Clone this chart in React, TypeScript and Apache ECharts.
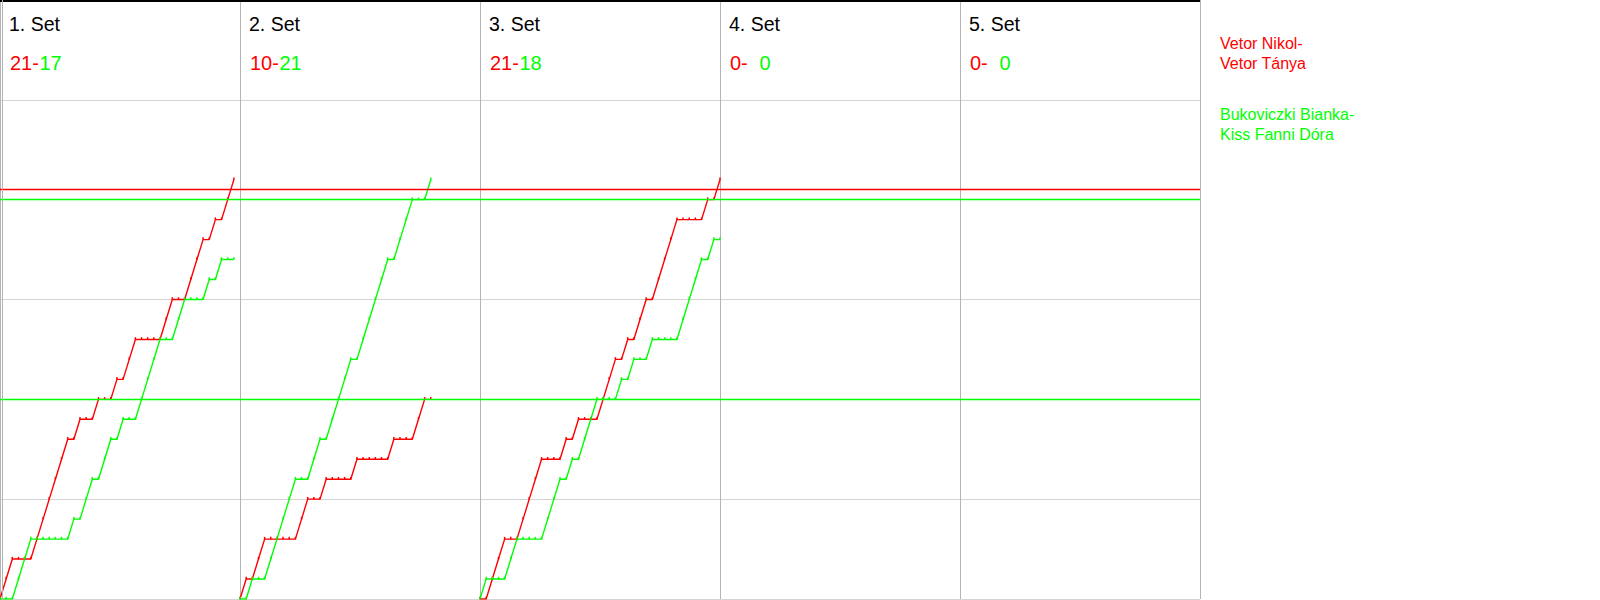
import React, { useEffect, useRef } from "react";
import * as echarts from "echarts";

// ---- data ----
const setNames = ["1. Set", "2. Set", "3. Set", "4. Set", "5. Set"];
const redTeam = "Vetor Nikol-\nVetor Tánya";
const greenTeam = "Bukoviczki Bianka-\nKiss Fanni Dóra";
const redSetScores = [21, 10, 21, 0, 0];
const greenSetScores = [17, 21, 18, 0, 0];

// running score after each rally (index 0 = start of set)
const redSet1 = [0, 1, 2, 2, 2, 2, 3, 4, 5, 6, 7, 8, 8, 9, 9, 9, 10, 10, 10, 11, 11, 12, 13, 13, 13, 13, 13, 14, 15, 15, 15, 16, 17, 18, 18, 19, 19, 20, 21];
const greenSet1 = [0, 0, 0, 1, 2, 3, 3, 3, 3, 3, 3, 3, 4, 4, 5, 6, 6, 7, 8, 8, 9, 9, 9, 10, 11, 12, 13, 13, 13, 14, 15, 15, 15, 15, 16, 16, 17, 17, 17];
const redSet2 = [0, 1, 1, 2, 3, 3, 3, 3, 3, 3, 4, 5, 5, 5, 6, 6, 6, 6, 6, 7, 7, 7, 7, 7, 7, 8, 8, 8, 8, 9, 10, 10];
const greenSet2 = [0, 0, 1, 1, 1, 2, 3, 4, 5, 6, 6, 6, 7, 8, 8, 9, 10, 11, 12, 12, 13, 14, 15, 16, 17, 17, 18, 19, 20, 20, 20, 21];
const redSet3 = [0, 0, 1, 2, 3, 3, 3, 4, 5, 6, 7, 7, 7, 7, 8, 8, 9, 9, 9, 9, 10, 11, 12, 12, 13, 13, 14, 15, 15, 16, 17, 18, 19, 19, 19, 19, 19, 20, 20, 21];
const greenSet3 = [0, 1, 1, 1, 1, 2, 3, 3, 3, 3, 3, 4, 5, 6, 6, 7, 7, 8, 9, 10, 10, 10, 10, 11, 11, 12, 12, 12, 13, 13, 13, 13, 13, 14, 15, 16, 17, 17, 18, 18];
const redProgress = [redSet1, redSet2, redSet3, [], []];
const greenProgress = [greenSet1, greenSet2, greenSet3, [], []];

const ralliesPerSet = 39;
const yMax = 30;
const yStep = 5;
const redRefLines = [20.5];
const greenRefLines = [20, 10];

const RED = "#ff0000";
const GREEN = "#00ff00";

const W = 1200;
const H = 599;
const colW = W / setNames.length;
const FONT = "'Liberation Sans', Arial, sans-serif";

export default function App() {
  const ref = useRef<HTMLDivElement>(null);
  useEffect(() => {
    if (!ref.current) return;
    const chart = echarts.init(ref.current, null, { renderer: "svg" });

    const series: any[] = [];
    const mkSeries = (prog: number[][], color: string, name: string) => {
      prog.forEach((arr, si) => {
        if (!arr.length) return;
        series.push({
          type: "line",
          name,
          data: arr.map((v, i) => [si * ralliesPerSet + i, v]),
          symbol: "rect",
          symbolSize: [1.5, 2.5],
          symbolOffset: [0, -1],
          showSymbol: true,
          itemStyle: { color },
          lineStyle: { color, width: 1.4 },
          silent: true,
          z: 3,
        });
      });
    };
    mkSeries(redProgress, RED, "red");
    mkSeries(greenProgress, GREEN, "green");

    series.push({
      type: "line",
      data: [],
      markLine: {
        silent: true,
        symbol: "none",
        animation: false,
        label: { show: false },
        data: [
          ...redRefLines.map((v) => ({ yAxis: v, lineStyle: { color: RED, width: 1.3, type: "solid" } })),
          ...greenRefLines.map((v) => ({ yAxis: v, lineStyle: { color: GREEN, width: 1.3, type: "solid" } })),
        ],
      },
      z: 4,
    });

    const graphic: any[] = [];
    setNames.forEach((n, i) => {
      const x0 = i * colW;
      graphic.push({
        type: "text",
        x: x0 + 9,
        y: 23.5,
        style: { text: n, fill: "#000", font: `19.5px ${FONT}`, verticalAlign: "middle" },
      });
      graphic.push({
        type: "text",
        x: x0 + 10,
        y: 62.5,
        style: { text: `${redSetScores[i]}-`, fill: RED, font: `20px ${FONT}`, verticalAlign: "middle" },
      });
      graphic.push({
        type: "text",
        x: x0 + 39.5,
        y: 62.5,
        style: { text: `${greenSetScores[i]}`, fill: GREEN, font: `20px ${FONT}`, verticalAlign: "middle" },
      });
    });
    graphic.push({
      type: "text",
      x: 1220,
      y: 53.5,
      style: { text: redTeam, fill: RED, font: `16px ${FONT}`, lineHeight: 20, verticalAlign: "middle" },
    });
    graphic.push({
      type: "text",
      x: 1220,
      y: 124,
      style: { text: greenTeam, fill: GREEN, font: `16px ${FONT}`, lineHeight: 20, verticalAlign: "middle" },
    });
    graphic.push({ type: "rect", shape: { x: 0, y: 0, width: W, height: 2 }, style: { fill: "#000" }, z: 10 });
    graphic.push({ type: "rect", shape: { x: 2, y: 0, width: 1, height: 600 }, style: { fill: "#b4b4b4" }, z: 10 });

    chart.setOption({
      animation: false,
      grid: { left: 0, top: 0, width: W, height: H, containLabel: false },
      xAxis: {
        type: "value",
        min: 0,
        max: ralliesPerSet * setNames.length,
        interval: ralliesPerSet,
        axisLine: { show: false },
        axisTick: { show: false },
        axisLabel: { show: false },
        splitLine: { show: true, lineStyle: { color: "#b4b4b4", width: 1 } },
      },
      yAxis: {
        type: "value",
        min: 0,
        max: yMax,
        interval: yStep,
        axisLine: { show: false },
        axisTick: { show: false },
        axisLabel: { show: false },
        splitLine: { show: true, lineStyle: { color: "#d4d4d4", width: 1 } },
      },
      series,
      graphic,
    });
    return () => chart.dispose();
  }, []);
  return (
    <div
      ref={ref}
      style={{ position: "fixed", left: 0, top: 0, width: 1600, height: 600, background: "#fff" }}
    />
  );
}
